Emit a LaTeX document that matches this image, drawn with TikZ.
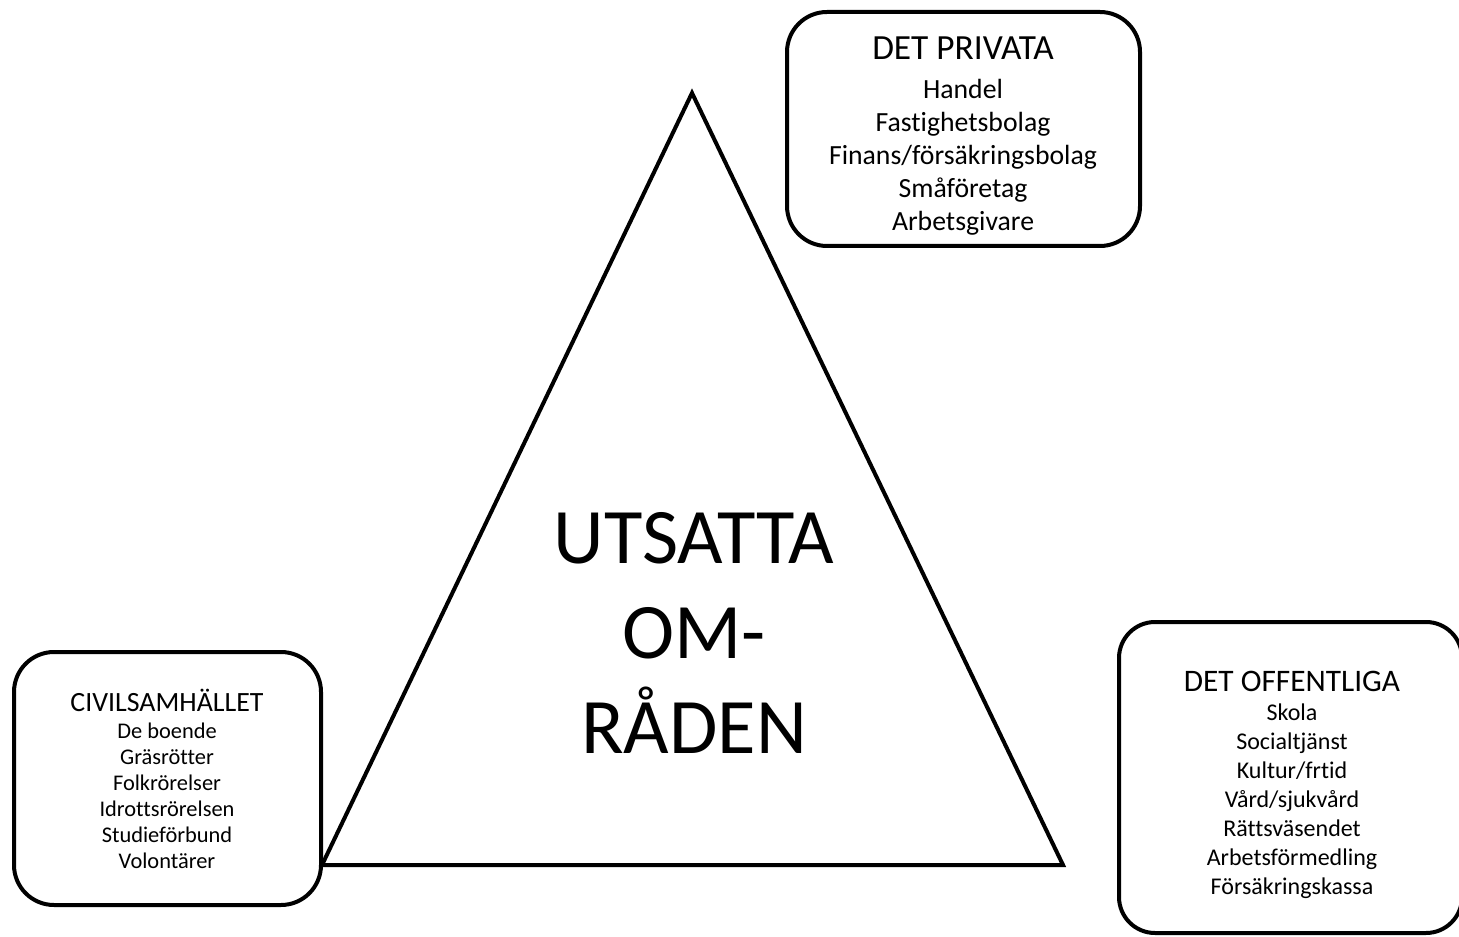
\documentclass[tikz,border=0pt]{standalone}
\usepackage{fontspec}
\setmainfont{Carlito}[Ligatures=NoCommon]
\begin{document}
\begin{tikzpicture}[x=0.75pt,y=-0.75pt,
  boxline/.style={draw=black,line width=3pt,rounded corners=30pt},
  txt/.style={inner sep=0pt,outer sep=0pt,align=center,anchor=north}]
\useasboundingbox (0,0) rectangle (1459,937);
% triangle
\coordinate (apex) at (692,93);
\coordinate (bl) at (322,865);
\coordinate (br) at (1063,865);
\draw[line width=3pt,line join=miter] (apex) -- (br) -- (bl) -- cycle;
% boxes
\path[boxline,fill=white] (787,12) rectangle (1140,246);
\path[boxline,fill=white] (14,652) rectangle (321,905);
\path[boxline,fill=white,rounded corners=27pt] (1119,622) rectangle (1462,933);
% texts
\node[txt,font=\fontsize{20.8}{24.75}\selectfont] (priv) at (963,37)
  {{\fontsize{26.5}{24.75}\selectfont DET PRIVATA}\\[4.5pt]
   Handel\\Fastighetsbolag\\Finans/försäkringsbolag\\Småföretag\\Arbetsgivare};
\node[txt,font=\fontsize{16.8}{19.5}\selectfont] (civ) at (167,689)
  {{\fontsize{20.9}{19.5}\selectfont CIVILSAMHÄLLET}\\[0.75pt]
   De boende\\Gräsrötter\\Folkrörelser\\Idrottsrörelsen\\Studieförbund\\Volontärer};
\node[txt,font=\fontsize{18}{21.75}\selectfont] (off) at (1292,671)
  {{\fontsize{23.5}{21.75}\selectfont DET OFFENTLIGA}\\[0pt]
   Skola\\Socialtjänst\\Kultur/frtid\\Vård/sjukvård\\Rättsväsendet\\Arbetsförmedling\\Försäkringskassa};
\node[txt,font=\fontsize{59}{71.25}\selectfont] (center) at (694,512)
  {UTSATTA\\OM-\\RÅDEN};
\end{tikzpicture}
\end{document}
